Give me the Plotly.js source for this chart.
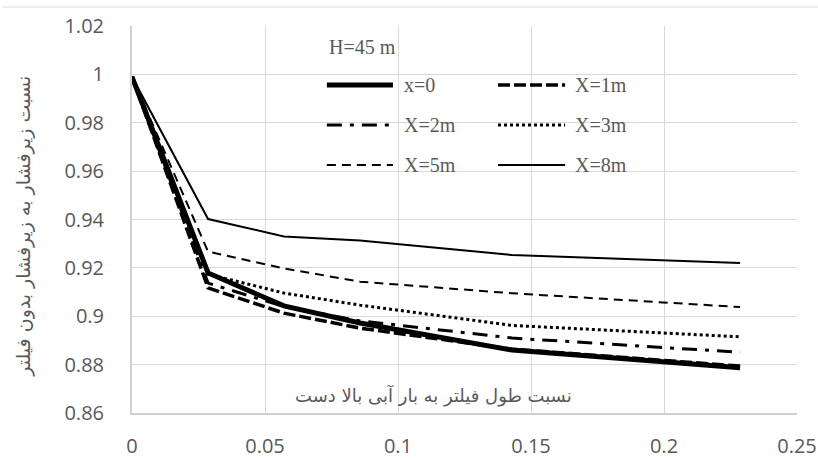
<!DOCTYPE html>
<html>
<head>
<meta charset="utf-8">
<script src="https://cdn.plot.ly/plotly-3.0.1.min.js"></script>
<style>
html,body{margin:0;padding:0;background:#fff;}
#chart{width:818px;height:459px;}
</style>
</head>
<body>
<div id="chart"></div>
<script>
// Data
var ratioL = [0, 0.0286, 0.0571, 0.0857, 0.1429, 0.2286];
var seriesNames = ["x=0", "X=1m", "X=2m", "X=3m", "X=5m", "X=8m"];
var x0  = [0.999, 0.9179, 0.9043, 0.8972, 0.8860, 0.8787];
var x1m = [0.999, 0.9117, 0.9013, 0.8951, 0.8864, 0.8794];
var x2m = [0.999, 0.9137, 0.9040, 0.8981, 0.8910, 0.8851];
var x3m = [0.999, 0.9174, 0.9096, 0.9046, 0.8962, 0.8915];
var x5m = [0.999, 0.9267, 0.9198, 0.9143, 0.9095, 0.9038];
var x8m = [0.999, 0.9402, 0.9330, 0.9313, 0.9253, 0.9220];
var xTicks = [0, 0.05, 0.1, 0.15, 0.2, 0.25];
var xTickText = ["0", "0.05", "0.1", "0.15", "0.2", "0.25"];
var yTicks = [0.86, 0.88, 0.9, 0.92, 0.94, 0.96, 0.98, 1, 1.02];
var yTickText = ["0.86", "0.88", "0.9", "0.92", "0.94", "0.96", "0.98", "1", "1.02"];
var legendTitle = "H=45 m";
var xTitle = "نسبت طول فیلتر به بار آبی بالا دست";
var yTitle = "نسبت زیرفشار به زیرفشار بدون فیلتر";

var values = [x0, x1m, x2m, x3m, x5m, x8m];
var styles = [
  {width: 5, dash: "solid"},
  {width: 3.5, dash: "12px,4px"},
  {width: 3, dash: "15px,8px,4px,8px"},
  {width: 3, dash: "3px,3px"},
  {width: 2, dash: "9px,6px"},
  {width: 2, dash: "solid"}
];

var traces = values.map(function(v, i){
  return {
    x: ratioL, y: v, type: "scatter", mode: "lines", name: seriesNames[i],
    line: {color: "#000", width: styles[i].width, dash: styles[i].dash},
    showlegend: false, hoverinfo: "skip"
  };
});

// manual two-column legend inside plot (as in the reference)
var legCols = [[0.2930, 0.3924, 0.4059], [0.5504, 0.6513, 0.6633]];
var legRows = [0.8475, 0.7442, 0.6408];
var shapes = [{
  type: "line", xref: "paper", yref: "paper",
  x0: -0.195, x1: 1.04, y0: 1.049, y1: 1.049,
  line: {color: "#d9d9d9", width: 1}
}];
var annotations = [];
seriesNames.forEach(function(n, i){
  var c = legCols[i % 2], r = legRows[Math.floor(i / 2)];
  shapes.push({type: "line", xref: "paper", yref: "paper",
    x0: c[0], x1: c[1], y0: r, y1: r,
    line: {color: "#000", width: styles[i].width, dash: styles[i].dash}});
  annotations.push({xref: "paper", yref: "paper", x: c[2], y: r, text: n,
    showarrow: false, xanchor: "left", yanchor: "middle",
    font: {family: "Liberation Serif", size: 20, color: "#595959"}});
});
annotations.push({xref: "paper", yref: "paper", x: 0.2930, y: 0.9457, text: legendTitle,
  showarrow: false, xanchor: "left", yanchor: "middle",
  font: {family: "Liberation Serif", size: 20, color: "#595959"}});
annotations.push({xref: "paper", yref: "paper", x: 0.454, y: 0.0465, text: xTitle,
  showarrow: false, xanchor: "center", yanchor: "middle",
  font: {family: "DejaVu Sans", size: 18, color: "#595959"}});
annotations.push({xref: "paper", yref: "paper", x: -0.1645, y: 0.483, text: yTitle,
  showarrow: false, xanchor: "center", yanchor: "middle", textangle: -90,
  font: {family: "DejaVu Sans", size: 19, color: "#595959"}});

var layout = {
  width: 818, height: 459,
  margin: {l: 132, r: 21, t: 26, b: 46},
  paper_bgcolor: "#fff", plot_bgcolor: "#fff",
  showlegend: false,
  font: {family: "Open Sans", color: "#595959"},
  xaxis: {
    range: [0, 0.25], tickvals: xTicks, ticktext: xTickText,
    showgrid: true, gridcolor: "#d9d9d9", gridwidth: 1,
    showline: true, linecolor: "#d0d0d0", linewidth: 1.5,
    zeroline: false, ticks: "outside", ticklen: 14, tickcolor: "rgba(0,0,0,0)",
    tickfont: {family: "Open Sans", size: 20, color: "#595959"}
  },
  yaxis: {
    range: [0.86, 1.02], tickvals: yTicks, ticktext: yTickText,
    showgrid: true, gridcolor: "#d9d9d9", gridwidth: 1,
    showline: true, linecolor: "#d0d0d0", linewidth: 2,
    zeroline: false, ticks: "outside", ticklen: 22, tickcolor: "rgba(0,0,0,0)",
    tickfont: {family: "Open Sans", size: 20, color: "#595959"}
  },
  shapes: shapes,
  annotations: annotations
};

Plotly.newPlot("chart", traces, layout, {staticPlot: true, displayModeBar: false});
</script>
</body>
</html>
